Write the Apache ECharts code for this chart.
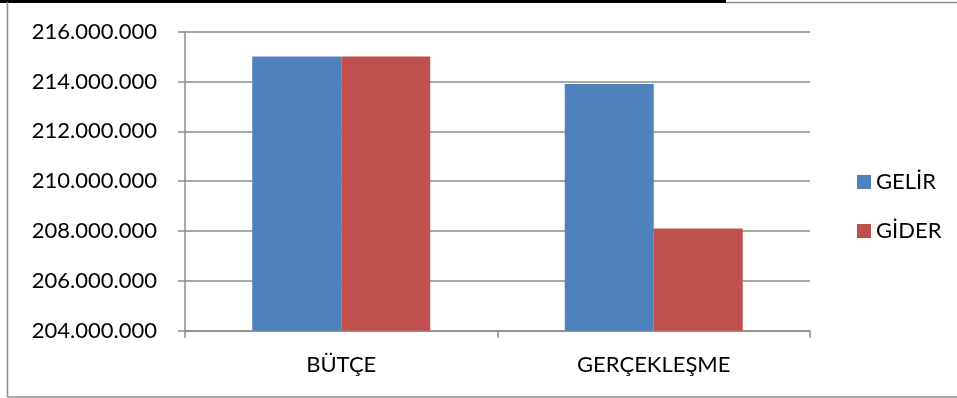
<!DOCTYPE html>
<html>
<head>
<meta charset="utf-8">
<script src="https://cdn.jsdelivr.net/npm/echarts@6/dist/echarts.min.js"></script>
<style>
  html, body { margin: 0; padding: 0; background: #fff; }
  #chart { width: 957px; height: 398px; }
</style>
</head>
<body>
<div id="chart"></div>
<script>
// Budget vs. realisation, income and expense
const categories = ['BÜTÇE', 'GERÇEKLEŞME'];
const gelir = [215000000, 213900000];
const gider = [215000000, 208100000];
const seriesNames = ['GELİR', 'GİDER'];
const yMin = 204000000;
const yMax = 216000000;
const yStep = 2000000;

const FONT = 'Lato, "Open Sans", sans-serif';
const GRID_GRAY = '#8c8c8c';

function dotted(v) {
  return String(Math.round(v)).replace(/\B(?=(\d{3})+(?!\d))/g, '.');
}

const chart = echarts.init(document.getElementById('chart'), null, { renderer: 'canvas' });

chart.setOption({
  animation: false,
  backgroundColor: '#ffffff',
  textStyle: { fontFamily: FONT, color: '#000' },
  grid: { left: 185, top: 31.7, right: 147, bottom: 67.3, containLabel: false },
  legend: {
    data: seriesNames,
    orient: 'vertical',
    left: 852,
    top: 166,
    itemWidth: 14,
    itemHeight: 14,
    itemGap: 27,
    icon: 'rect',
    textStyle: { fontFamily: FONT, fontSize: 22, color: '#000', padding: [0, 0, 0, 0] }
  },
  xAxis: {
    type: 'category',
    data: categories,
    axisLine: { lineStyle: { color: GRID_GRAY, width: 1.5 } },
    axisTick: { show: true, length: 7, lineStyle: { color: GRID_GRAY, width: 1.5 } },
    axisLabel: { fontFamily: FONT, fontSize: 22, color: '#000', margin: 23 }
  },
  yAxis: {
    type: 'value',
    min: yMin,
    max: yMax,
    interval: yStep,
    axisLine: { show: true, lineStyle: { color: GRID_GRAY, width: 1.5 } },
    axisTick: { show: true, length: 7, lineStyle: { color: GRID_GRAY, width: 1.5 } },
    splitLine: { lineStyle: { color: GRID_GRAY, width: 1.5 } },
    axisLabel: { fontFamily: FONT, fontSize: 22, color: '#000', margin: 28, formatter: dotted }
  },
  series: [
    {
      name: seriesNames[0],
      type: 'bar',
      data: gelir,
      barWidth: 89,
      barGap: '0%',
      itemStyle: { color: '#4F81BD' }
    },
    {
      name: seriesNames[1],
      type: 'bar',
      data: gider,
      barWidth: 89,
      barGap: '0%',
      itemStyle: { color: '#C0504D' }
    }
  ],
  graphic: [
    // frame around the chart
    { type: 'line', shape: { x1: 0, y1: 1.5, x2: 726, y2: 1.5 }, style: { stroke: '#000', lineWidth: 3 }, silent: true },
    { type: 'line', shape: { x1: 726, y1: 2.5, x2: 957, y2: 2.5 }, style: { stroke: '#8c8c8c', lineWidth: 1.5 }, silent: true },
    { type: 'line', shape: { x1: 7.5, y1: 2, x2: 7.5, y2: 397 }, style: { stroke: '#8c8c8c', lineWidth: 1.5 }, silent: true },
    { type: 'line', shape: { x1: 7.5, y1: 397, x2: 957, y2: 397 }, style: { stroke: '#8c8c8c', lineWidth: 1.5 }, silent: true }
  ]
});
</script>
</body>
</html>
